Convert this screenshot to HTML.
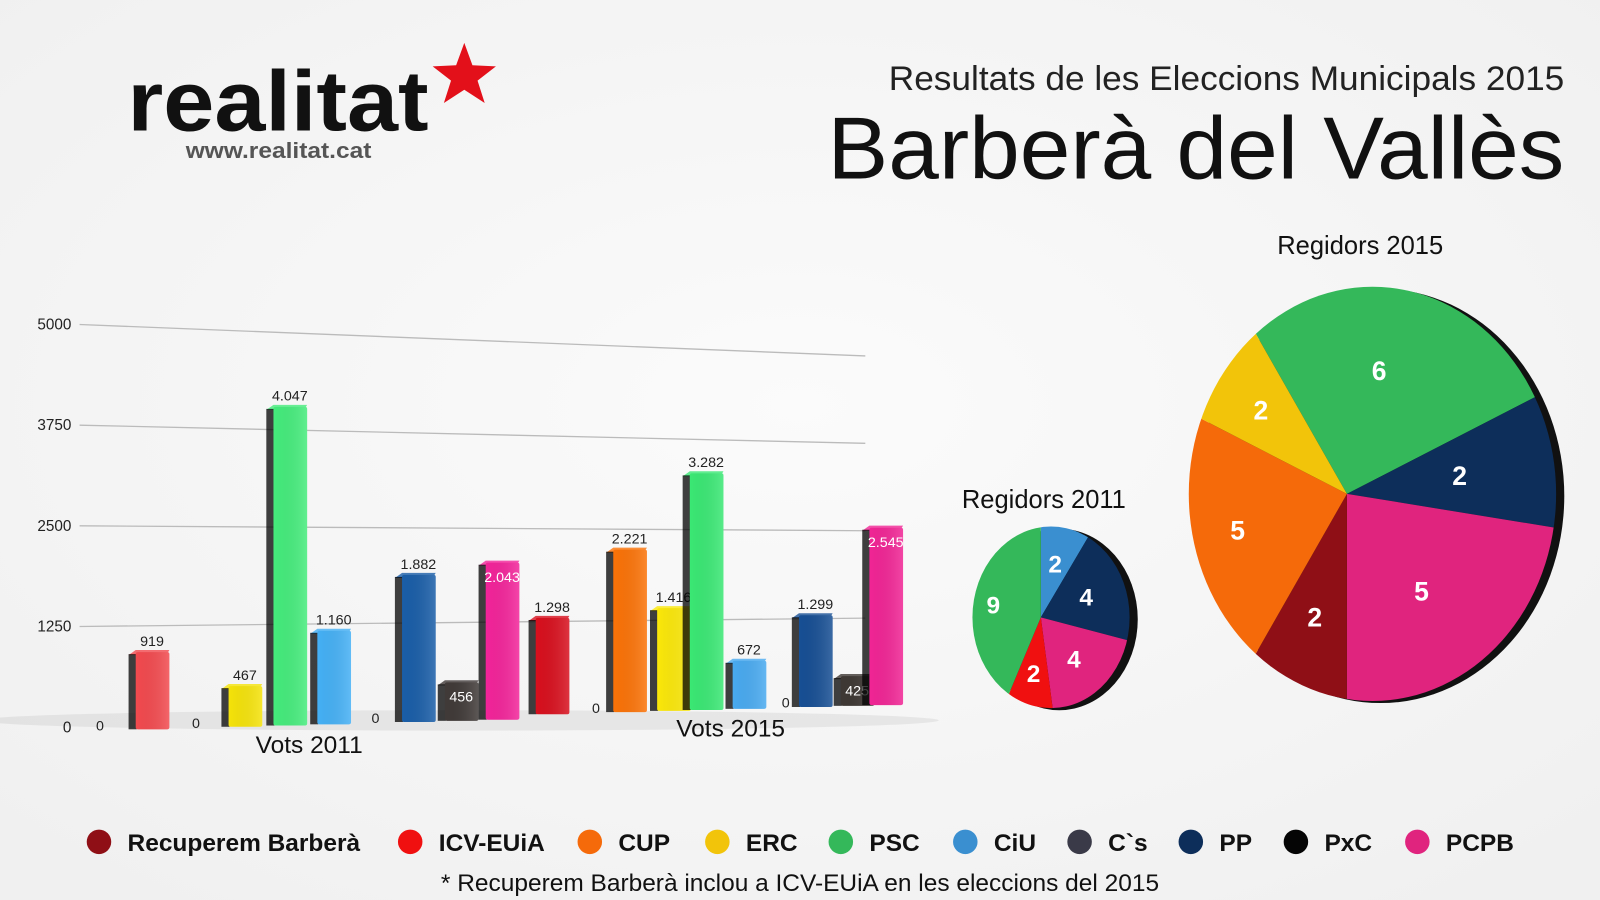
<!DOCTYPE html>
<html><head><meta charset="utf-8"><style>
html,body{margin:0;padding:0;background:#f4f4f4;overflow:hidden}
svg{display:block}
text{font-family:"Liberation Sans",sans-serif}
</style></head><body>
<svg id="chart" width="1600" height="900" viewBox="0 0 1568 882" preserveAspectRatio="none" xmlns="http://www.w3.org/2000/svg">
<defs>
<radialGradient id="bg" cx="0.5" cy="0.45" r="0.7"><stop offset="0" stop-color="#fbfbfb"/><stop offset="1" stop-color="#f0f0f0"/></radialGradient>
<linearGradient id="shade" x1="0" x2="1"><stop offset="0" stop-color="#000" stop-opacity="0"/><stop offset="1" stop-color="#fff" stop-opacity="0.15"/></linearGradient>
</defs>
<rect width="1568" height="882" fill="url(#bg)"/>
<g>
<text x="125" y="128" font-size="84" font-weight="bold" fill="#111" textLength="295" lengthAdjust="spacingAndGlyphs">realitat</text>
<polygon points="455,42 463,64 486,65 468,79 475,101 455,88 435,101 442,79 424,65 447,64" fill="#e3101a"/>
<text x="182" y="155" font-size="22" font-weight="bold" fill="#555" textLength="182" lengthAdjust="spacingAndGlyphs">www.realitat.cat</text>
</g>
<text x="1533" y="88" font-size="34" fill="#222" text-anchor="end" textLength="662" lengthAdjust="spacingAndGlyphs">Resultats de les Eleccions Municipals 2015</text>
<text x="1533" y="175" font-size="86" fill="#111" text-anchor="end" textLength="722" lengthAdjust="spacingAndGlyphs">Barberà del Vallès</text>
<g id="bars"></g>
<g id="pies"></g>
<g id="legend"></g>
<text x="784" y="873" font-size="24" fill="#111" text-anchor="middle">* Recuperem Barberà  inclou a ICV-EUiA en les eleccions del 2015</text>
</svg>
<script>
const NS="http://www.w3.org/2000/svg";
const parties=["Recuperem Barberà","ICV-EUiA","CUP","ERC","PSC","CiU","C`s","PP","PxC","PCPB"];
const partyColors=["#8f0f16","#f01010","#f56a0a","#f2c40a","#34b85a","#3a8fd0","#3a3a48","#0d2e5a","#050505","#e0247e"];
const votes2011=[0,919,0,467,4047,1160,0,1882,456,2043];
const votes2015=[1298,0,2221,1416,3282,672,0,1299,425,2545];
const yTicks=[0,1250,2500,3750,5000];
const barColors2011=["#8f0f16","#f24a4f","#f56a0a","#f5e30a","#45ec7c","#45b0f5","#3a3a48","#1a5ea8","#403a38","#f3249a"];
const barColors2015=["#d8101e","#f01010","#fb7308","#fbe80a","#3ae874","#49aaf0","#3a3a48","#174f94","#3e3834","#f12595"];
const seats2011=[0,2,0,0,9,2,0,4,0,4];
const seats2015=[2,0,5,2,6,0,0,2,0,5];

function mk(tag,attrs,parent){const e=document.createElementNS(NS,tag);for(const k in attrs)e.setAttribute(k,attrs[k]);parent.appendChild(e);return e;}
const bars=document.getElementById('bars');
function baseY(x){return 712-(x-100)*0.0275;}
function topY(x){return 318+(x-78)*0.040;}
function yAt(v,x){return baseY(x)-v/5000*(baseY(x)-topY(x));}
yTicks.forEach((t,i)=>{
  if(t===0)return;
  const l=mk('line',{x1:78,y1:yAt(t,78),x2:848,y2:yAt(t,848),stroke:'#bbb','stroke-width':1.3},bars);
  
  
});
yTicks.forEach(t=>{
  const tx=mk('text',{x:70,y:yAt(t,70)+5,'font-size':15,'text-anchor':'end',fill:'#222'},bars);
  tx.textContent=t;
  
  
});
mk('ellipse',{cx:450,cy:706,rx:470,ry:10,fill:'#000',opacity:0.06},bars);
const x2011=[98,146,192,237,281,324,368,407,449,489];
const x2015=[538,584,614,657,689,731,770,796,837,865];
function fmt(v){return v>=1000?Math.floor(v/1000)+'.'+String(v%1000).padStart(3,'0'):String(v);}
function drawBar(v,cx,col,name,lightLabel){
  const w=40, b=baseY(cx)+ (cx<500?4:0), top=yAt(v,cx);
  if(v===0){
    const t=mk('text',{x:cx,y:b,'font-size':14,'text-anchor':'middle',fill:'#222'},bars);
    t.textContent='0';
    
    
    return;
  }
  const g=mk('g',{},bars);
  
  
  mk('polygon',{points:`${cx-w/2},${top+3} ${cx-w/2+7},${top-2} ${cx+w/2},${top-2} ${cx+w/2-3},${top+3}`,fill:col,opacity:0.8},g);
  mk('rect',{x:cx-w/2,y:top+2,width:8,height:b-top-2,fill:'#000',opacity:0.75},g);
  mk('rect',{x:cx-w/2+7,y:top,width:w-7,height:b-top,fill:col,rx:2},g);
  mk('rect',{x:cx-w/2+7,y:top,width:w-7,height:b-top,fill:'url(#shade)'},g);
  const inside=lightLabel;
  const t=mk('text',{x:cx+3,y:inside?top+19:top-6,'font-size':14,'text-anchor':'middle',fill:inside?'#fff':'#222'},g);
  t.textContent=fmt(v);
}
votes2011.forEach((v,i)=>drawBar(v,x2011[i],barColors2011[i],'bar-2011-'+i,i===8||i===9));
votes2015.forEach((v,i)=>drawBar(v,x2015[i],barColors2015[i],'bar-2015-'+i,i===8||i===9));
[['Vots 2011',303,738],['Vots 2015',716,722]].forEach(([s,x,y])=>{
  const t=mk('text',{x:x,y:y,'font-size':24,'text-anchor':'middle',fill:'#111'},bars);
  t.textContent=s;
  
  
});

const pies=document.getElementById('pies');
function drawPie(seats,order,startDeg,cx,cy,rx,ry,ecx,name,title,tx,ty,fs,lfs){
  const g=mk('g',{},pies);
  
  
  mk('ellipse',{cx:ecx+8,cy:cy+2,rx:rx,ry:ry,fill:'#111'},g);
  const total=seats.reduce((a,b)=>a+b,0);
  let a=startDeg;
  order.forEach(i=>{
    const v=seats[i]; if(!v)return;
    const a2=a+v/total*360;
    const pt=d=>{const r=d*Math.PI/180;return [cx+rx*1.4*Math.sin(r),cy-ry*1.4*Math.cos(r)];};
    const p1=pt(a),p2=pt(a2);
    const large=(a2-a)>180?1:0;
    const s=mk('path',{d:`M${cx},${cy} L${p1[0]},${p1[1]} A${rx*1.4},${ry*1.4} 0 ${large} 1 ${p2[0]},${p2[1]} Z`,fill:partyColors[i],'clip-path':`url(#clip-${name})`},g);
    
    
    const m=(a+a2)/2*Math.PI/180;
    const lt=mk('text',{x:cx+rx*0.62*Math.sin(m),y:cy-ry*0.62*Math.cos(m)+lfs*0.36,'font-size':lfs,'font-weight':'bold','text-anchor':'middle',fill:'#fff'},g);
    lt.textContent=v;
    a=a2;
  });
  const cp=mk('clipPath',{id:'clip-'+name},g);
  mk('ellipse',{cx:ecx,cy:cy,rx:rx,ry:ry},cp);
  const t=mk('text',{x:tx,y:ty,'font-size':fs,'text-anchor':'middle',fill:'#111'},pies);
  t.textContent=title;
  
  
}
drawPie(seats2011,[5,7,9,1,4],0,1020,605,77,89,1030,'pie-2011','Regidors 2011',1023,498,25,24);
drawPie(seats2015,[4,7,9,0,2,3],-32.7,1320,484,180,203,1345,'pie-2015','Regidors 2015',1333,249,25,26);

const legend=document.getElementById('legend');
const lx=[97,402,578,703,824,946,1058,1167,1270,1389];
parties.forEach((p,i)=>{
  const g=mk('g',{},legend);
  
  
  mk('circle',{cx:lx[i],cy:825,r:12,fill:partyColors[i]},g);
  const t=mk('text',{x:lx[i]+28,y:834,'font-size':24,'font-weight':'bold',fill:'#111'},g);
  t.textContent=p;
});
</script>
</body></html>
